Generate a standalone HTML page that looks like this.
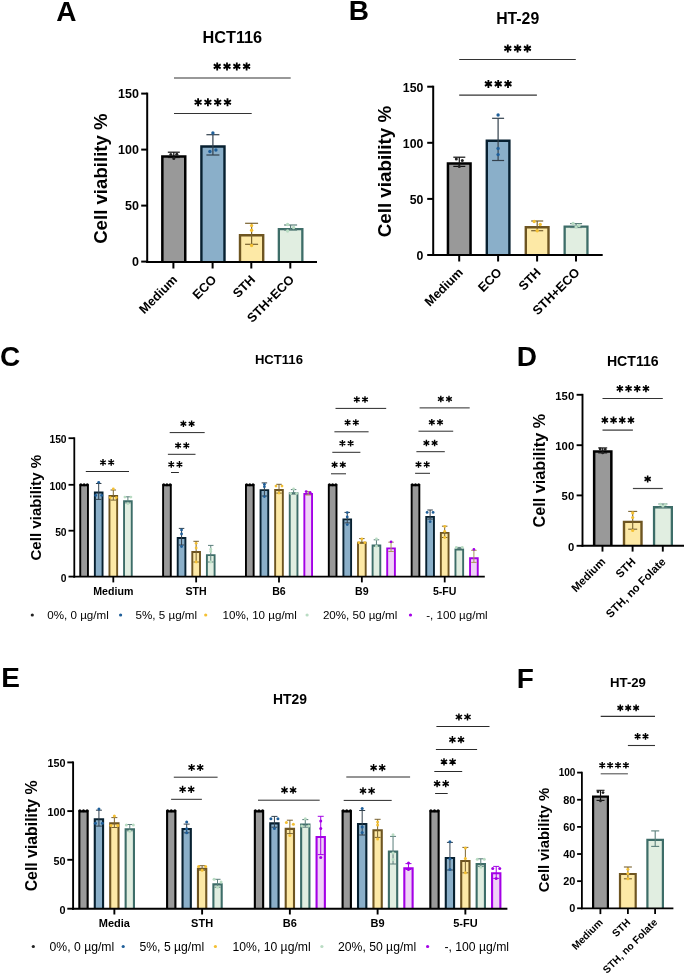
<!DOCTYPE html>
<html><head><meta charset="utf-8"><title>Figure</title>
<style>html,body{margin:0;padding:0;background:#fff;} svg{display:block;will-change:transform;} text{font-family:"Liberation Sans", sans-serif;}</style>
</head><body>
<svg width="685" height="975" viewBox="0 0 685 975">
<rect width="685" height="975" fill="#fff"/>
<text x="56.30" y="20.50" font-size="28" font-weight="bold" text-anchor="start" fill="#000" >A</text>
<text x="348.70" y="20.30" font-size="28" font-weight="bold" text-anchor="start" fill="#000" >B</text>
<text x="0.00" y="366.00" font-size="28" font-weight="bold" text-anchor="start" fill="#000" >C</text>
<text x="516.70" y="365.90" font-size="28" font-weight="bold" text-anchor="start" fill="#000" >D</text>
<text x="1.20" y="687.40" font-size="28" font-weight="bold" text-anchor="start" fill="#000" >E</text>
<text x="516.80" y="687.90" font-size="28" font-weight="bold" text-anchor="start" fill="#000" >F</text>
<text x="232.30" y="42.60" font-size="16.3" font-weight="bold" text-anchor="middle" fill="#000" >HCT116</text>
<line x1="147.20" y1="92.60" x2="147.20" y2="263.00" stroke="#000" stroke-width="2.0"/>
<line x1="141.20" y1="93.60" x2="147.20" y2="93.60" stroke="#000" stroke-width="2.0"/>
<text x="138.90" y="98.10" font-size="12.5" font-weight="bold" text-anchor="end" fill="#000" >150</text>
<line x1="141.20" y1="149.60" x2="147.20" y2="149.60" stroke="#000" stroke-width="2.0"/>
<text x="138.90" y="154.10" font-size="12.5" font-weight="bold" text-anchor="end" fill="#000" >100</text>
<line x1="141.20" y1="205.60" x2="147.20" y2="205.60" stroke="#000" stroke-width="2.0"/>
<text x="138.90" y="210.10" font-size="12.5" font-weight="bold" text-anchor="end" fill="#000" >50</text>
<line x1="141.20" y1="261.60" x2="147.20" y2="261.60" stroke="#000" stroke-width="2.0"/>
<text x="138.90" y="266.10" font-size="12.5" font-weight="bold" text-anchor="end" fill="#000" >0</text>
<text x="0" y="0" font-size="18.65" font-weight="bold" text-anchor="middle" transform="translate(106.50 178.60) rotate(-90)">Cell viability %</text>
<rect x="162.35" y="156.45" width="22.90" height="105.55" fill="#999999"/>
<path d="M162.35 262.00V156.45H185.25V262.00" fill="none" stroke="#000000" stroke-width="2.5" stroke-linejoin="miter"/>
<rect x="201.40" y="146.50" width="23.10" height="115.50" fill="#8aafc9"/>
<path d="M201.40 262.00V146.50H224.50V262.00" fill="none" stroke="#072030" stroke-width="2.4" stroke-linejoin="miter"/>
<rect x="240.00" y="235.20" width="23.20" height="26.80" fill="#fde9a6"/>
<path d="M240.00 262.00V235.20H263.20V262.00" fill="none" stroke="#6e5521" stroke-width="2.4" stroke-linejoin="miter"/>
<rect x="278.85" y="229.15" width="23.50" height="32.85" fill="#e1eee1"/>
<path d="M278.85 262.00V229.15H302.35V262.00" fill="none" stroke="#3d6d68" stroke-width="2.3" stroke-linejoin="miter"/>
<line x1="173.80" y1="152.20" x2="173.80" y2="157.50" stroke="#111111" stroke-width="1.2"/>
<line x1="167.80" y1="152.20" x2="179.80" y2="152.20" stroke="#111111" stroke-width="1.2"/>
<line x1="167.80" y1="157.50" x2="179.80" y2="157.50" stroke="#111111" stroke-width="1.2"/>
<circle cx="170.80" cy="154.50" r="1.5" fill="#222222"/>
<circle cx="173.80" cy="158.50" r="1.5" fill="#222222"/>
<circle cx="176.80" cy="154.20" r="1.5" fill="#222222"/>
<line x1="212.90" y1="134.70" x2="212.90" y2="155.00" stroke="#33414d" stroke-width="1.2"/>
<line x1="206.40" y1="134.70" x2="219.40" y2="134.70" stroke="#33414d" stroke-width="1.2"/>
<line x1="206.40" y1="155.00" x2="219.40" y2="155.00" stroke="#33414d" stroke-width="1.2"/>
<circle cx="212.90" cy="133.00" r="1.7" fill="#1f5f99"/>
<circle cx="209.90" cy="151.50" r="1.7" fill="#1f5f99"/>
<circle cx="215.90" cy="150.00" r="1.7" fill="#1f5f99"/>
<line x1="251.60" y1="223.30" x2="251.60" y2="244.30" stroke="#7a6330" stroke-width="1.2"/>
<line x1="245.10" y1="223.30" x2="258.10" y2="223.30" stroke="#7a6330" stroke-width="1.2"/>
<line x1="245.10" y1="244.30" x2="258.10" y2="244.30" stroke="#7a6330" stroke-width="1.2"/>
<circle cx="251.60" cy="225.60" r="1.7" fill="#f4c033"/>
<circle cx="251.60" cy="230.30" r="1.7" fill="#f4c033"/>
<circle cx="251.60" cy="245.50" r="1.7" fill="#f4c033"/>
<line x1="290.60" y1="225.00" x2="290.60" y2="230.00" stroke="#5b7f7b" stroke-width="1.2"/>
<line x1="284.10" y1="225.00" x2="297.10" y2="225.00" stroke="#5b7f7b" stroke-width="1.2"/>
<line x1="284.10" y1="230.00" x2="297.10" y2="230.00" stroke="#5b7f7b" stroke-width="1.2"/>
<circle cx="287.60" cy="224.50" r="1.7" fill="#b9dcc3"/>
<circle cx="287.60" cy="231.00" r="1.7" fill="#b9dcc3"/>
<circle cx="293.60" cy="227.50" r="1.7" fill="#b9dcc3"/>
<line x1="146.20" y1="262.00" x2="317.00" y2="262.00" stroke="#000" stroke-width="2.0"/>
<line x1="173.40" y1="262.00" x2="173.40" y2="268.50" stroke="#000" stroke-width="2.0"/>
<line x1="212.60" y1="262.00" x2="212.60" y2="268.50" stroke="#000" stroke-width="2.0"/>
<line x1="251.30" y1="262.00" x2="251.30" y2="268.50" stroke="#000" stroke-width="2.0"/>
<line x1="290.30" y1="262.00" x2="290.30" y2="268.50" stroke="#000" stroke-width="2.0"/>
<text x="0" y="0" font-size="12.7" font-weight="bold" text-anchor="end" transform="translate(178.10 280.50) rotate(-45)">Medium</text>
<text x="0" y="0" font-size="12.7" font-weight="bold" text-anchor="end" transform="translate(217.30 280.50) rotate(-45)">ECO</text>
<text x="0" y="0" font-size="12.7" font-weight="bold" text-anchor="end" transform="translate(256.00 280.50) rotate(-45)">STH</text>
<text x="0" y="0" font-size="12.7" font-weight="bold" text-anchor="end" transform="translate(295.00 280.50) rotate(-45)">STH+ECO</text>
<line x1="174.00" y1="78.00" x2="290.70" y2="78.00" stroke="#333" stroke-width="1.2"/>
<path d="M217.20 62.40V70.40M213.74 64.40L220.66 68.40M213.74 68.40L220.66 64.40" stroke="#000" stroke-width="1.8" fill="none"/>
<path d="M227.00 62.40V70.40M223.54 64.40L230.46 68.40M223.54 68.40L230.46 64.40" stroke="#000" stroke-width="1.8" fill="none"/>
<path d="M236.80 62.40V70.40M233.34 64.40L240.26 68.40M233.34 68.40L240.26 64.40" stroke="#000" stroke-width="1.8" fill="none"/>
<path d="M246.60 62.40V70.40M243.14 64.40L250.06 68.40M243.14 68.40L250.06 64.40" stroke="#000" stroke-width="1.8" fill="none"/>
<line x1="174.00" y1="113.50" x2="251.70" y2="113.50" stroke="#333" stroke-width="1.1"/>
<path d="M198.10 98.30V106.30M194.64 100.30L201.56 104.30M194.64 104.30L201.56 100.30" stroke="#000" stroke-width="1.8" fill="none"/>
<path d="M207.90 98.30V106.30M204.44 100.30L211.36 104.30M204.44 104.30L211.36 100.30" stroke="#000" stroke-width="1.8" fill="none"/>
<path d="M217.70 98.30V106.30M214.24 100.30L221.16 104.30M214.24 104.30L221.16 100.30" stroke="#000" stroke-width="1.8" fill="none"/>
<path d="M227.50 98.30V106.30M224.04 100.30L230.96 104.30M224.04 104.30L230.96 100.30" stroke="#000" stroke-width="1.8" fill="none"/>
<text x="517.70" y="23.60" font-size="15.8" font-weight="bold" text-anchor="middle" fill="#000" >HT-29</text>
<line x1="433.20" y1="85.70" x2="433.20" y2="256.00" stroke="#000" stroke-width="2.0"/>
<line x1="427.20" y1="86.70" x2="433.20" y2="86.70" stroke="#000" stroke-width="2.0"/>
<text x="423.40" y="92.13" font-size="12.3" font-weight="bold" text-anchor="end" fill="#000" >150</text>
<line x1="427.20" y1="142.80" x2="433.20" y2="142.80" stroke="#000" stroke-width="2.0"/>
<text x="423.40" y="148.23" font-size="12.3" font-weight="bold" text-anchor="end" fill="#000" >100</text>
<line x1="427.20" y1="198.90" x2="433.20" y2="198.90" stroke="#000" stroke-width="2.0"/>
<text x="423.40" y="204.33" font-size="12.3" font-weight="bold" text-anchor="end" fill="#000" >50</text>
<line x1="427.20" y1="255.00" x2="433.20" y2="255.00" stroke="#000" stroke-width="2.0"/>
<text x="423.40" y="260.43" font-size="12.3" font-weight="bold" text-anchor="end" fill="#000" >0</text>
<text x="0" y="0" font-size="18.8" font-weight="bold" text-anchor="middle" transform="translate(391.20 171.60) rotate(-90)">Cell viability %</text>
<rect x="447.95" y="163.55" width="22.60" height="91.45" fill="#999999"/>
<path d="M447.95 255.00V163.55H470.55V255.00" fill="none" stroke="#000000" stroke-width="2.5" stroke-linejoin="miter"/>
<rect x="486.80" y="140.70" width="22.60" height="114.30" fill="#8aafc9"/>
<path d="M486.80 255.00V140.70H509.40V255.00" fill="none" stroke="#072030" stroke-width="2.4" stroke-linejoin="miter"/>
<rect x="525.80" y="227.30" width="22.70" height="27.70" fill="#fde9a6"/>
<path d="M525.80 255.00V227.30H548.50V255.00" fill="none" stroke="#6e5521" stroke-width="2.4" stroke-linejoin="miter"/>
<rect x="564.65" y="226.65" width="22.80" height="28.35" fill="#e1eee1"/>
<path d="M564.65 255.00V226.65H587.45V255.00" fill="none" stroke="#3d6d68" stroke-width="2.3" stroke-linejoin="miter"/>
<line x1="459.30" y1="157.20" x2="459.30" y2="166.40" stroke="#111111" stroke-width="1.2"/>
<line x1="453.30" y1="157.20" x2="465.30" y2="157.20" stroke="#111111" stroke-width="1.2"/>
<line x1="453.30" y1="166.40" x2="465.30" y2="166.40" stroke="#111111" stroke-width="1.2"/>
<circle cx="456.30" cy="159.00" r="1.5" fill="#222222"/>
<circle cx="462.30" cy="160.50" r="1.5" fill="#222222"/>
<circle cx="459.30" cy="166.40" r="1.5" fill="#222222"/>
<line x1="498.10" y1="118.30" x2="498.10" y2="160.50" stroke="#33414d" stroke-width="1.2"/>
<line x1="492.10" y1="118.30" x2="504.10" y2="118.30" stroke="#33414d" stroke-width="1.2"/>
<line x1="492.10" y1="160.50" x2="504.10" y2="160.50" stroke="#33414d" stroke-width="1.2"/>
<circle cx="498.10" cy="115.00" r="1.7" fill="#1f5f99"/>
<circle cx="498.10" cy="148.50" r="1.7" fill="#1f5f99"/>
<circle cx="498.10" cy="154.60" r="1.7" fill="#1f5f99"/>
<line x1="537.20" y1="221.00" x2="537.20" y2="230.70" stroke="#7a6330" stroke-width="1.2"/>
<line x1="531.20" y1="221.00" x2="543.20" y2="221.00" stroke="#7a6330" stroke-width="1.2"/>
<line x1="531.20" y1="230.70" x2="543.20" y2="230.70" stroke="#7a6330" stroke-width="1.2"/>
<circle cx="534.20" cy="221.50" r="1.7" fill="#f4c033"/>
<circle cx="540.20" cy="224.50" r="1.7" fill="#f4c033"/>
<circle cx="537.20" cy="230.70" r="1.7" fill="#f4c033"/>
<line x1="576.10" y1="223.60" x2="576.10" y2="227.50" stroke="#5b7f7b" stroke-width="1.2"/>
<line x1="570.10" y1="223.60" x2="582.10" y2="223.60" stroke="#5b7f7b" stroke-width="1.2"/>
<line x1="570.10" y1="227.50" x2="582.10" y2="227.50" stroke="#5b7f7b" stroke-width="1.2"/>
<circle cx="573.10" cy="223.50" r="1.7" fill="#b9dcc3"/>
<circle cx="579.10" cy="225.50" r="1.7" fill="#b9dcc3"/>
<circle cx="576.10" cy="227.00" r="1.7" fill="#b9dcc3"/>
<line x1="432.20" y1="255.00" x2="602.70" y2="255.00" stroke="#000" stroke-width="2.0"/>
<line x1="459.20" y1="255.00" x2="459.20" y2="261.50" stroke="#000" stroke-width="2.0"/>
<line x1="498.10" y1="255.00" x2="498.10" y2="261.50" stroke="#000" stroke-width="2.0"/>
<line x1="537.10" y1="255.00" x2="537.10" y2="261.50" stroke="#000" stroke-width="2.0"/>
<line x1="576.00" y1="255.00" x2="576.00" y2="261.50" stroke="#000" stroke-width="2.0"/>
<text x="0" y="0" font-size="12.7" font-weight="bold" text-anchor="end" transform="translate(463.70 273.20) rotate(-45)">Medium</text>
<text x="0" y="0" font-size="12.7" font-weight="bold" text-anchor="end" transform="translate(502.60 273.20) rotate(-45)">ECO</text>
<text x="0" y="0" font-size="12.7" font-weight="bold" text-anchor="end" transform="translate(541.60 273.20) rotate(-45)">STH</text>
<text x="0" y="0" font-size="12.7" font-weight="bold" text-anchor="end" transform="translate(580.50 273.20) rotate(-45)">STH+ECO</text>
<line x1="459.20" y1="59.50" x2="575.80" y2="59.50" stroke="#333" stroke-width="1.1"/>
<path d="M507.80 44.40V52.40M504.34 46.40L511.26 50.40M504.34 50.40L511.26 46.40" stroke="#000" stroke-width="1.8" fill="none"/>
<path d="M517.60 44.40V52.40M514.14 46.40L521.06 50.40M514.14 50.40L521.06 46.40" stroke="#000" stroke-width="1.8" fill="none"/>
<path d="M527.40 44.40V52.40M523.94 46.40L530.86 50.40M523.94 50.40L530.86 46.40" stroke="#000" stroke-width="1.8" fill="none"/>
<line x1="459.20" y1="95.20" x2="536.90" y2="95.20" stroke="#333" stroke-width="1.2"/>
<path d="M488.40 79.90V87.90M484.94 81.90L491.86 85.90M484.94 85.90L491.86 81.90" stroke="#000" stroke-width="1.8" fill="none"/>
<path d="M498.20 79.90V87.90M494.74 81.90L501.66 85.90M494.74 85.90L501.66 81.90" stroke="#000" stroke-width="1.8" fill="none"/>
<path d="M508.00 79.90V87.90M504.54 81.90L511.46 85.90M504.54 85.90L511.46 81.90" stroke="#000" stroke-width="1.8" fill="none"/>
<!--C-->
<text x="278.90" y="364.00" font-size="13.1" font-weight="bold" text-anchor="middle" fill="#000" >HCT116</text>
<text x="0" y="0" font-size="15.1" font-weight="bold" text-anchor="middle" transform="translate(41.00 507.70) rotate(-90)">Cell viability %</text>
<line x1="74.30" y1="437.30" x2="74.30" y2="577.60" stroke="#000" stroke-width="1.8"/>
<line x1="68.50" y1="438.20" x2="74.30" y2="438.20" stroke="#000" stroke-width="1.8"/>
<text x="66.60" y="443.31" font-size="10.3" font-weight="bold" text-anchor="end" fill="#000" >150</text>
<line x1="68.50" y1="484.80" x2="74.30" y2="484.80" stroke="#000" stroke-width="1.8"/>
<text x="66.60" y="489.91" font-size="10.3" font-weight="bold" text-anchor="end" fill="#000" >100</text>
<line x1="68.50" y1="530.70" x2="74.30" y2="530.70" stroke="#000" stroke-width="1.8"/>
<text x="66.60" y="535.81" font-size="10.3" font-weight="bold" text-anchor="end" fill="#000" >50</text>
<line x1="68.50" y1="576.60" x2="74.30" y2="576.60" stroke="#000" stroke-width="1.8"/>
<text x="66.60" y="581.71" font-size="10.3" font-weight="bold" text-anchor="end" fill="#000" >0</text>
<rect x="80.25" y="485.25" width="7.70" height="91.35" fill="#999999"/>
<path d="M80.25 576.60V485.25H87.95V576.60" fill="none" stroke="#000000" stroke-width="1.9" stroke-linejoin="miter"/>
<circle cx="80.90" cy="484.80" r="1.5" fill="#000"/>
<circle cx="84.10" cy="484.80" r="1.5" fill="#000"/>
<circle cx="87.30" cy="484.80" r="1.5" fill="#000"/>
<rect x="94.85" y="492.45" width="7.70" height="84.15" fill="#8aafc9"/>
<path d="M94.85 576.60V492.45H102.55V576.60" fill="none" stroke="#072030" stroke-width="1.9" stroke-linejoin="miter"/>
<line x1="98.70" y1="483.50" x2="98.70" y2="499.40" stroke="#33414d" stroke-width="1.0"/>
<line x1="95.95" y1="483.50" x2="101.45" y2="483.50" stroke="#33414d" stroke-width="1.0"/>
<line x1="95.95" y1="499.40" x2="101.45" y2="499.40" stroke="#33414d" stroke-width="1.0"/>
<circle cx="98.70" cy="482.30" r="1.4" fill="#1f5f99"/>
<circle cx="95.70" cy="495.40" r="1.4" fill="#1f5f99"/>
<circle cx="101.70" cy="495.40" r="1.4" fill="#1f5f99"/>
<rect x="109.45" y="495.95" width="7.70" height="80.65" fill="#fde9a6"/>
<path d="M109.45 576.60V495.95H117.15V576.60" fill="none" stroke="#6e5521" stroke-width="1.9" stroke-linejoin="miter"/>
<line x1="113.30" y1="490.00" x2="113.30" y2="500.10" stroke="#7a6330" stroke-width="1.0"/>
<line x1="110.55" y1="490.00" x2="116.05" y2="490.00" stroke="#7a6330" stroke-width="1.0"/>
<line x1="110.55" y1="500.10" x2="116.05" y2="500.10" stroke="#7a6330" stroke-width="1.0"/>
<circle cx="113.30" cy="488.90" r="1.4" fill="#f4c033"/>
<circle cx="110.30" cy="497.60" r="1.4" fill="#f4c033"/>
<circle cx="116.30" cy="497.60" r="1.4" fill="#f4c033"/>
<rect x="124.05" y="501.25" width="7.70" height="75.35" fill="#e1eee1"/>
<path d="M124.05 576.60V501.25H131.75V576.60" fill="none" stroke="#3d6d68" stroke-width="1.9" stroke-linejoin="miter"/>
<line x1="127.90" y1="496.80" x2="127.90" y2="502.90" stroke="#5b7f7b" stroke-width="1.0"/>
<line x1="125.15" y1="496.80" x2="130.65" y2="496.80" stroke="#5b7f7b" stroke-width="1.0"/>
<line x1="125.15" y1="502.90" x2="130.65" y2="502.90" stroke="#5b7f7b" stroke-width="1.0"/>
<circle cx="124.90" cy="497.10" r="1.4" fill="#b9dcc3"/>
<circle cx="130.90" cy="497.10" r="1.4" fill="#b9dcc3"/>
<circle cx="127.90" cy="503.70" r="1.4" fill="#b9dcc3"/>
<text x="113.30" y="594.90" font-size="10.6" font-weight="bold" text-anchor="middle" fill="#000" >Medium</text>
<rect x="163.10" y="485.25" width="7.70" height="91.35" fill="#999999"/>
<path d="M163.10 576.60V485.25H170.80V576.60" fill="none" stroke="#000000" stroke-width="1.9" stroke-linejoin="miter"/>
<circle cx="163.75" cy="484.80" r="1.5" fill="#000"/>
<circle cx="166.95" cy="484.80" r="1.5" fill="#000"/>
<circle cx="170.15" cy="484.80" r="1.5" fill="#000"/>
<rect x="177.70" y="538.05" width="7.70" height="38.55" fill="#8aafc9"/>
<path d="M177.70 576.60V538.05H185.40V576.60" fill="none" stroke="#072030" stroke-width="1.9" stroke-linejoin="miter"/>
<line x1="181.55" y1="528.40" x2="181.55" y2="545.00" stroke="#33414d" stroke-width="1.0"/>
<line x1="178.80" y1="528.40" x2="184.30" y2="528.40" stroke="#33414d" stroke-width="1.0"/>
<line x1="178.80" y1="545.00" x2="184.30" y2="545.00" stroke="#33414d" stroke-width="1.0"/>
<circle cx="181.55" cy="529.90" r="1.4" fill="#1f5f99"/>
<circle cx="181.55" cy="534.00" r="1.4" fill="#1f5f99"/>
<circle cx="181.55" cy="546.50" r="1.4" fill="#1f5f99"/>
<rect x="192.30" y="552.05" width="7.70" height="24.55" fill="#fde9a6"/>
<path d="M192.30 576.60V552.05H200.00V576.60" fill="none" stroke="#6e5521" stroke-width="1.9" stroke-linejoin="miter"/>
<line x1="196.15" y1="541.30" x2="196.15" y2="562.00" stroke="#7a6330" stroke-width="1.0"/>
<line x1="193.40" y1="541.30" x2="198.90" y2="541.30" stroke="#7a6330" stroke-width="1.0"/>
<line x1="193.40" y1="562.00" x2="198.90" y2="562.00" stroke="#7a6330" stroke-width="1.0"/>
<circle cx="196.15" cy="543.30" r="1.4" fill="#f4c033"/>
<circle cx="196.15" cy="548.00" r="1.4" fill="#f4c033"/>
<circle cx="196.15" cy="562.00" r="1.4" fill="#f4c033"/>
<rect x="206.90" y="555.15" width="7.70" height="21.45" fill="#e1eee1"/>
<path d="M206.90 576.60V555.15H214.60V576.60" fill="none" stroke="#3d6d68" stroke-width="1.9" stroke-linejoin="miter"/>
<line x1="210.75" y1="545.40" x2="210.75" y2="562.00" stroke="#5b7f7b" stroke-width="1.0"/>
<line x1="208.00" y1="545.40" x2="213.50" y2="545.40" stroke="#5b7f7b" stroke-width="1.0"/>
<line x1="208.00" y1="562.00" x2="213.50" y2="562.00" stroke="#5b7f7b" stroke-width="1.0"/>
<circle cx="210.75" cy="549.20" r="1.4" fill="#b9dcc3"/>
<circle cx="210.75" cy="551.50" r="1.4" fill="#b9dcc3"/>
<circle cx="210.75" cy="562.00" r="1.4" fill="#b9dcc3"/>
<text x="196.15" y="594.90" font-size="10.6" font-weight="bold" text-anchor="middle" fill="#000" >STH</text>
<rect x="245.95" y="485.25" width="7.70" height="91.35" fill="#999999"/>
<path d="M245.95 576.60V485.25H253.65V576.60" fill="none" stroke="#000000" stroke-width="1.9" stroke-linejoin="miter"/>
<circle cx="246.60" cy="484.80" r="1.5" fill="#000"/>
<circle cx="249.80" cy="484.80" r="1.5" fill="#000"/>
<circle cx="253.00" cy="484.80" r="1.5" fill="#000"/>
<rect x="260.55" y="490.15" width="7.70" height="86.45" fill="#8aafc9"/>
<path d="M260.55 576.60V490.15H268.25V576.60" fill="none" stroke="#072030" stroke-width="1.9" stroke-linejoin="miter"/>
<line x1="264.40" y1="482.90" x2="264.40" y2="496.00" stroke="#33414d" stroke-width="1.0"/>
<line x1="261.65" y1="482.90" x2="267.15" y2="482.90" stroke="#33414d" stroke-width="1.0"/>
<line x1="261.65" y1="496.00" x2="267.15" y2="496.00" stroke="#33414d" stroke-width="1.0"/>
<circle cx="264.40" cy="484.30" r="1.4" fill="#1f5f99"/>
<circle cx="264.40" cy="486.70" r="1.4" fill="#1f5f99"/>
<circle cx="264.40" cy="496.60" r="1.4" fill="#1f5f99"/>
<rect x="275.15" y="489.95" width="7.70" height="86.65" fill="#fde9a6"/>
<path d="M275.15 576.60V489.95H282.85V576.60" fill="none" stroke="#6e5521" stroke-width="1.9" stroke-linejoin="miter"/>
<line x1="279.00" y1="484.30" x2="279.00" y2="493.10" stroke="#7a6330" stroke-width="1.0"/>
<line x1="276.25" y1="484.30" x2="281.75" y2="484.30" stroke="#7a6330" stroke-width="1.0"/>
<line x1="276.25" y1="493.10" x2="281.75" y2="493.10" stroke="#7a6330" stroke-width="1.0"/>
<circle cx="276.00" cy="486.10" r="1.4" fill="#f4c033"/>
<circle cx="282.00" cy="486.10" r="1.4" fill="#f4c033"/>
<circle cx="279.00" cy="493.10" r="1.4" fill="#f4c033"/>
<rect x="289.75" y="493.25" width="7.70" height="83.35" fill="#e1eee1"/>
<path d="M289.75 576.60V493.25H297.45V576.60" fill="none" stroke="#3d6d68" stroke-width="1.9" stroke-linejoin="miter"/>
<line x1="293.60" y1="489.60" x2="293.60" y2="494.00" stroke="#5b7f7b" stroke-width="1.0"/>
<line x1="290.85" y1="489.60" x2="296.35" y2="489.60" stroke="#5b7f7b" stroke-width="1.0"/>
<line x1="290.85" y1="494.00" x2="296.35" y2="494.00" stroke="#5b7f7b" stroke-width="1.0"/>
<circle cx="293.60" cy="489.00" r="1.4" fill="#b9dcc3"/>
<circle cx="290.60" cy="493.50" r="1.4" fill="#b9dcc3"/>
<circle cx="296.60" cy="493.50" r="1.4" fill="#b9dcc3"/>
<rect x="304.35" y="494.05" width="7.70" height="82.55" fill="#efd2f7"/>
<path d="M304.35 576.60V494.05H312.05V576.60" fill="none" stroke="#a400e6" stroke-width="1.9" stroke-linejoin="miter"/>
<line x1="308.20" y1="491.60" x2="308.20" y2="495.00" stroke="#a89a5a" stroke-width="1.0"/>
<line x1="305.45" y1="491.60" x2="310.95" y2="491.60" stroke="#a89a5a" stroke-width="1.0"/>
<line x1="305.45" y1="495.00" x2="310.95" y2="495.00" stroke="#a89a5a" stroke-width="1.0"/>
<circle cx="306.20" cy="491.60" r="1.4" fill="#a400e6"/>
<circle cx="310.20" cy="492.60" r="1.4" fill="#a400e6"/>
<text x="279.00" y="594.90" font-size="10.6" font-weight="bold" text-anchor="middle" fill="#000" >B6</text>
<rect x="328.80" y="485.25" width="7.70" height="91.35" fill="#999999"/>
<path d="M328.80 576.60V485.25H336.50V576.60" fill="none" stroke="#000000" stroke-width="1.9" stroke-linejoin="miter"/>
<circle cx="329.45" cy="484.80" r="1.5" fill="#000"/>
<circle cx="332.65" cy="484.80" r="1.5" fill="#000"/>
<circle cx="335.85" cy="484.80" r="1.5" fill="#000"/>
<rect x="343.40" y="519.35" width="7.70" height="57.25" fill="#8aafc9"/>
<path d="M343.40 576.60V519.35H351.10V576.60" fill="none" stroke="#072030" stroke-width="1.9" stroke-linejoin="miter"/>
<line x1="347.25" y1="512.40" x2="347.25" y2="522.90" stroke="#33414d" stroke-width="1.0"/>
<line x1="344.50" y1="512.40" x2="350.00" y2="512.40" stroke="#33414d" stroke-width="1.0"/>
<line x1="344.50" y1="522.90" x2="350.00" y2="522.90" stroke="#33414d" stroke-width="1.0"/>
<circle cx="347.25" cy="512.60" r="1.4" fill="#1f5f99"/>
<circle cx="347.25" cy="517.00" r="1.4" fill="#1f5f99"/>
<circle cx="347.25" cy="524.60" r="1.4" fill="#1f5f99"/>
<rect x="358.00" y="542.75" width="7.70" height="33.85" fill="#fde9a6"/>
<path d="M358.00 576.60V542.75H365.70V576.60" fill="none" stroke="#6e5521" stroke-width="1.9" stroke-linejoin="miter"/>
<line x1="361.85" y1="538.60" x2="361.85" y2="542.70" stroke="#7a6330" stroke-width="1.0"/>
<line x1="359.10" y1="538.60" x2="364.60" y2="538.60" stroke="#7a6330" stroke-width="1.0"/>
<line x1="359.10" y1="542.70" x2="364.60" y2="542.70" stroke="#7a6330" stroke-width="1.0"/>
<circle cx="361.85" cy="539.00" r="1.4" fill="#f4c033"/>
<circle cx="358.85" cy="542.70" r="1.4" fill="#f4c033"/>
<circle cx="364.85" cy="542.70" r="1.4" fill="#f4c033"/>
<rect x="372.60" y="545.45" width="7.70" height="31.15" fill="#e1eee1"/>
<path d="M372.60 576.60V545.45H380.30V576.60" fill="none" stroke="#3d6d68" stroke-width="1.9" stroke-linejoin="miter"/>
<line x1="376.45" y1="539.80" x2="376.45" y2="546.20" stroke="#5b7f7b" stroke-width="1.0"/>
<line x1="373.70" y1="539.80" x2="379.20" y2="539.80" stroke="#5b7f7b" stroke-width="1.0"/>
<line x1="373.70" y1="546.20" x2="379.20" y2="546.20" stroke="#5b7f7b" stroke-width="1.0"/>
<circle cx="376.45" cy="539.00" r="1.4" fill="#b9dcc3"/>
<circle cx="376.45" cy="546.20" r="1.4" fill="#b9dcc3"/>
<rect x="387.20" y="548.35" width="7.70" height="28.25" fill="#efd2f7"/>
<path d="M387.20 576.60V548.35H394.90V576.60" fill="none" stroke="#a400e6" stroke-width="1.9" stroke-linejoin="miter"/>
<line x1="391.05" y1="542.20" x2="391.05" y2="551.50" stroke="#a89a5a" stroke-width="1.0"/>
<line x1="388.30" y1="542.20" x2="393.80" y2="542.20" stroke="#a89a5a" stroke-width="1.0"/>
<line x1="388.30" y1="551.50" x2="393.80" y2="551.50" stroke="#a89a5a" stroke-width="1.0"/>
<circle cx="391.05" cy="541.80" r="1.4" fill="#a400e6"/>
<text x="361.85" y="594.90" font-size="10.6" font-weight="bold" text-anchor="middle" fill="#000" >B9</text>
<rect x="411.65" y="485.25" width="7.70" height="91.35" fill="#999999"/>
<path d="M411.65 576.60V485.25H419.35V576.60" fill="none" stroke="#000000" stroke-width="1.9" stroke-linejoin="miter"/>
<circle cx="412.30" cy="484.80" r="1.5" fill="#000"/>
<circle cx="415.50" cy="484.80" r="1.5" fill="#000"/>
<circle cx="418.70" cy="484.80" r="1.5" fill="#000"/>
<rect x="426.25" y="516.85" width="7.70" height="59.75" fill="#8aafc9"/>
<path d="M426.25 576.60V516.85H433.95V576.60" fill="none" stroke="#072030" stroke-width="1.9" stroke-linejoin="miter"/>
<line x1="430.10" y1="510.00" x2="430.10" y2="519.10" stroke="#33414d" stroke-width="1.0"/>
<line x1="427.35" y1="510.00" x2="432.85" y2="510.00" stroke="#33414d" stroke-width="1.0"/>
<line x1="427.35" y1="519.10" x2="432.85" y2="519.10" stroke="#33414d" stroke-width="1.0"/>
<circle cx="427.10" cy="512.40" r="1.4" fill="#1f5f99"/>
<circle cx="433.10" cy="512.40" r="1.4" fill="#1f5f99"/>
<circle cx="430.10" cy="521.70" r="1.4" fill="#1f5f99"/>
<rect x="440.85" y="532.85" width="7.70" height="43.75" fill="#fde9a6"/>
<path d="M440.85 576.60V532.85H448.55V576.60" fill="none" stroke="#6e5521" stroke-width="1.9" stroke-linejoin="miter"/>
<line x1="444.70" y1="526.20" x2="444.70" y2="537.50" stroke="#7a6330" stroke-width="1.0"/>
<line x1="441.95" y1="526.20" x2="447.45" y2="526.20" stroke="#7a6330" stroke-width="1.0"/>
<line x1="441.95" y1="537.50" x2="447.45" y2="537.50" stroke="#7a6330" stroke-width="1.0"/>
<circle cx="444.70" cy="526.40" r="1.4" fill="#f4c033"/>
<circle cx="444.70" cy="531.30" r="1.4" fill="#f4c033"/>
<circle cx="444.70" cy="537.50" r="1.4" fill="#f4c033"/>
<rect x="455.45" y="549.55" width="7.70" height="27.05" fill="#e1eee1"/>
<path d="M455.45 576.60V549.55H463.15V576.60" fill="none" stroke="#3d6d68" stroke-width="1.9" stroke-linejoin="miter"/>
<line x1="459.30" y1="547.40" x2="459.30" y2="548.60" stroke="#5b7f7b" stroke-width="1.0"/>
<line x1="456.55" y1="547.40" x2="462.05" y2="547.40" stroke="#5b7f7b" stroke-width="1.0"/>
<line x1="456.55" y1="548.60" x2="462.05" y2="548.60" stroke="#5b7f7b" stroke-width="1.0"/>
<circle cx="456.30" cy="547.40" r="1.4" fill="#b9dcc3"/>
<circle cx="462.30" cy="547.40" r="1.4" fill="#b9dcc3"/>
<rect x="470.05" y="558.25" width="7.70" height="18.35" fill="#efd2f7"/>
<path d="M470.05 576.60V558.25H477.75V576.60" fill="none" stroke="#a400e6" stroke-width="1.9" stroke-linejoin="miter"/>
<line x1="473.90" y1="550.30" x2="473.90" y2="562.40" stroke="#a89a5a" stroke-width="1.0"/>
<line x1="471.15" y1="550.30" x2="476.65" y2="550.30" stroke="#a89a5a" stroke-width="1.0"/>
<line x1="471.15" y1="562.40" x2="476.65" y2="562.40" stroke="#a89a5a" stroke-width="1.0"/>
<circle cx="473.90" cy="549.40" r="1.4" fill="#a400e6"/>
<text x="444.70" y="594.90" font-size="10.6" font-weight="bold" text-anchor="middle" fill="#000" >5-FU</text>
<line x1="73.40" y1="576.60" x2="484.80" y2="576.60" stroke="#000" stroke-width="1.8"/>
<line x1="113.30" y1="576.60" x2="113.30" y2="582.40" stroke="#000" stroke-width="1.8"/>
<line x1="196.15" y1="576.60" x2="196.15" y2="582.40" stroke="#000" stroke-width="1.8"/>
<line x1="279.00" y1="576.60" x2="279.00" y2="582.40" stroke="#000" stroke-width="1.8"/>
<line x1="361.85" y1="576.60" x2="361.85" y2="582.40" stroke="#000" stroke-width="1.8"/>
<line x1="444.70" y1="576.60" x2="444.70" y2="582.40" stroke="#000" stroke-width="1.8"/>
<line x1="85.80" y1="471.50" x2="129.00" y2="471.50" stroke="#2a2a2a" stroke-width="1.0"/>
<path d="M103.00 459.10V465.70M100.14 460.75L105.86 464.05M100.14 464.05L105.86 460.75" stroke="#000" stroke-width="1.4" fill="none"/>
<path d="M111.20 459.10V465.70M108.34 460.75L114.06 464.05M108.34 464.05L114.06 460.75" stroke="#000" stroke-width="1.4" fill="none"/>
<line x1="171.00" y1="472.50" x2="178.90" y2="472.50" stroke="#2a2a2a" stroke-width="1.0"/>
<path d="M171.25 461.10V467.70M168.39 462.75L174.11 466.05M168.39 466.05L174.11 462.75" stroke="#000" stroke-width="1.4" fill="none"/>
<path d="M179.45 461.10V467.70M176.59 462.75L182.31 466.05M176.59 466.05L182.31 462.75" stroke="#000" stroke-width="1.4" fill="none"/>
<line x1="167.90" y1="454.30" x2="195.50" y2="454.30" stroke="#2a2a2a" stroke-width="1.0"/>
<path d="M178.10 442.20V448.80M175.24 443.85L180.96 447.15M175.24 447.15L180.96 443.85" stroke="#000" stroke-width="1.4" fill="none"/>
<path d="M186.30 442.20V448.80M183.44 443.85L189.16 447.15M183.44 447.15L189.16 443.85" stroke="#000" stroke-width="1.4" fill="none"/>
<line x1="169.70" y1="432.60" x2="204.70" y2="432.60" stroke="#2a2a2a" stroke-width="1.0"/>
<path d="M183.40 420.50V427.10M180.54 422.15L186.26 425.45M180.54 425.45L186.26 422.15" stroke="#000" stroke-width="1.4" fill="none"/>
<path d="M191.60 420.50V427.10M188.74 422.15L194.46 425.45M188.74 425.45L194.46 422.15" stroke="#000" stroke-width="1.4" fill="none"/>
<line x1="331.00" y1="473.80" x2="346.00" y2="473.80" stroke="#2a2a2a" stroke-width="1.0"/>
<path d="M334.60 461.50V468.10M331.74 463.15L337.46 466.45M331.74 466.45L337.46 463.15" stroke="#000" stroke-width="1.4" fill="none"/>
<path d="M342.80 461.50V468.10M339.94 463.15L345.66 466.45M339.94 466.45L345.66 463.15" stroke="#000" stroke-width="1.4" fill="none"/>
<line x1="332.30" y1="452.30" x2="360.40" y2="452.30" stroke="#2a2a2a" stroke-width="1.0"/>
<path d="M342.40 440.00V446.60M339.54 441.65L345.26 444.95M339.54 444.95L345.26 441.65" stroke="#000" stroke-width="1.4" fill="none"/>
<path d="M350.60 440.00V446.60M347.74 441.65L353.46 444.95M347.74 444.95L353.46 441.65" stroke="#000" stroke-width="1.4" fill="none"/>
<line x1="334.40" y1="431.80" x2="368.60" y2="431.80" stroke="#2a2a2a" stroke-width="1.0"/>
<path d="M347.60 419.20V425.80M344.74 420.85L350.46 424.15M344.74 424.15L350.46 420.85" stroke="#000" stroke-width="1.4" fill="none"/>
<path d="M355.80 419.20V425.80M352.94 420.85L358.66 424.15M352.94 424.15L358.66 420.85" stroke="#000" stroke-width="1.4" fill="none"/>
<line x1="335.50" y1="408.40" x2="386.20" y2="408.40" stroke="#2a2a2a" stroke-width="1.0"/>
<path d="M356.80 396.20V402.80M353.94 397.85L359.66 401.15M353.94 401.15L359.66 397.85" stroke="#000" stroke-width="1.4" fill="none"/>
<path d="M365.00 396.20V402.80M362.14 397.85L367.86 401.15M362.14 401.15L367.86 397.85" stroke="#000" stroke-width="1.4" fill="none"/>
<line x1="415.10" y1="473.30" x2="430.00" y2="473.30" stroke="#2a2a2a" stroke-width="1.0"/>
<path d="M418.50 461.20V467.80M415.64 462.85L421.36 466.15M415.64 466.15L421.36 462.85" stroke="#000" stroke-width="1.4" fill="none"/>
<path d="M426.70 461.20V467.80M423.84 462.85L429.56 466.15M423.84 466.15L429.56 462.85" stroke="#000" stroke-width="1.4" fill="none"/>
<line x1="416.40" y1="451.70" x2="444.80" y2="451.70" stroke="#2a2a2a" stroke-width="1.0"/>
<path d="M426.40 439.70V446.30M423.54 441.35L429.26 444.65M423.54 444.65L429.26 441.35" stroke="#000" stroke-width="1.4" fill="none"/>
<path d="M434.60 439.70V446.30M431.74 441.35L437.46 444.65M431.74 444.65L437.46 441.35" stroke="#000" stroke-width="1.4" fill="none"/>
<line x1="418.50" y1="431.20" x2="453.20" y2="431.20" stroke="#2a2a2a" stroke-width="1.0"/>
<path d="M431.80 418.90V425.50M428.94 420.55L434.66 423.85M428.94 423.85L434.66 420.55" stroke="#000" stroke-width="1.4" fill="none"/>
<path d="M440.00 418.90V425.50M437.14 420.55L442.86 423.85M437.14 423.85L442.86 420.55" stroke="#000" stroke-width="1.4" fill="none"/>
<line x1="419.60" y1="407.90" x2="469.70" y2="407.90" stroke="#2a2a2a" stroke-width="1.0"/>
<path d="M440.80 395.70V402.30M437.94 397.35L443.66 400.65M437.94 400.65L443.66 397.35" stroke="#000" stroke-width="1.4" fill="none"/>
<path d="M449.00 395.70V402.30M446.14 397.35L451.86 400.65M446.14 400.65L451.86 397.35" stroke="#000" stroke-width="1.4" fill="none"/>
<circle cx="32.30" cy="615.00" r="1.6" fill="#222"/>
<text x="47.30" y="619.00" font-size="11.6" font-weight="normal" text-anchor="start" fill="#000" >0%, 0 µg/ml</text>
<circle cx="120.60" cy="615.00" r="1.6" fill="#1f5f99"/>
<text x="135.60" y="619.00" font-size="11.6" font-weight="normal" text-anchor="start" fill="#000" >5%, 5 µg/ml</text>
<circle cx="205.70" cy="615.00" r="1.6" fill="#f4c033"/>
<text x="222.50" y="619.00" font-size="11.6" font-weight="normal" text-anchor="start" fill="#000" >10%, 10 µg/ml</text>
<circle cx="307.10" cy="615.00" r="1.6" fill="#b9dcc3"/>
<text x="322.90" y="619.00" font-size="11.6" font-weight="normal" text-anchor="start" fill="#000" >20%, 50 µg/ml</text>
<circle cx="410.50" cy="615.00" r="1.6" fill="#a400e6"/>
<text x="426.20" y="619.00" font-size="11.6" font-weight="normal" text-anchor="start" fill="#000" >-, 100 µg/ml</text>
<text x="289.90" y="703.60" font-size="13.9" font-weight="bold" text-anchor="middle" fill="#000" >HT29</text>
<text x="0" y="0" font-size="15.85" font-weight="bold" text-anchor="middle" transform="translate(37.30 835.90) rotate(-90)">Cell viability %</text>
<line x1="73.10" y1="761.45" x2="73.10" y2="909.70" stroke="#000" stroke-width="1.9"/>
<line x1="67.30" y1="762.40" x2="73.10" y2="762.40" stroke="#000" stroke-width="1.9"/>
<text x="65.50" y="767.39" font-size="10.8" font-weight="bold" text-anchor="end" fill="#000" >150</text>
<line x1="67.30" y1="811.10" x2="73.10" y2="811.10" stroke="#000" stroke-width="1.9"/>
<text x="65.50" y="816.09" font-size="10.8" font-weight="bold" text-anchor="end" fill="#000" >100</text>
<line x1="67.30" y1="859.80" x2="73.10" y2="859.80" stroke="#000" stroke-width="1.9"/>
<text x="65.50" y="864.79" font-size="10.8" font-weight="bold" text-anchor="end" fill="#000" >50</text>
<line x1="67.30" y1="908.70" x2="73.10" y2="908.70" stroke="#000" stroke-width="1.9"/>
<text x="65.50" y="913.69" font-size="10.8" font-weight="bold" text-anchor="end" fill="#000" >0</text>
<rect x="79.35" y="811.35" width="8.30" height="97.35" fill="#999999"/>
<path d="M79.35 908.70V811.35H87.65V908.70" fill="none" stroke="#000000" stroke-width="2.1" stroke-linejoin="miter"/>
<circle cx="79.90" cy="810.80" r="1.5" fill="#000"/>
<circle cx="83.50" cy="810.80" r="1.5" fill="#000"/>
<circle cx="87.10" cy="810.80" r="1.5" fill="#000"/>
<rect x="94.78" y="819.25" width="8.30" height="89.45" fill="#8aafc9"/>
<path d="M94.78 908.70V819.25H103.08V908.70" fill="none" stroke="#072030" stroke-width="2.1" stroke-linejoin="miter"/>
<line x1="98.93" y1="810.20" x2="98.93" y2="826.10" stroke="#33414d" stroke-width="1.0"/>
<line x1="95.93" y1="810.20" x2="101.93" y2="810.20" stroke="#33414d" stroke-width="1.0"/>
<line x1="95.93" y1="826.10" x2="101.93" y2="826.10" stroke="#33414d" stroke-width="1.0"/>
<circle cx="98.93" cy="809.00" r="1.5" fill="#1f5f99"/>
<circle cx="95.43" cy="823.20" r="1.5" fill="#1f5f99"/>
<circle cx="102.43" cy="823.20" r="1.5" fill="#1f5f99"/>
<rect x="110.21" y="823.35" width="8.30" height="85.35" fill="#fde9a6"/>
<path d="M110.21 908.70V823.35H118.51V908.70" fill="none" stroke="#6e5521" stroke-width="2.1" stroke-linejoin="miter"/>
<line x1="114.36" y1="817.60" x2="114.36" y2="827.50" stroke="#7a6330" stroke-width="1.0"/>
<line x1="111.36" y1="817.60" x2="117.36" y2="817.60" stroke="#7a6330" stroke-width="1.0"/>
<line x1="111.36" y1="827.50" x2="117.36" y2="827.50" stroke="#7a6330" stroke-width="1.0"/>
<circle cx="114.36" cy="816.10" r="1.5" fill="#f4c033"/>
<circle cx="110.86" cy="825.40" r="1.5" fill="#f4c033"/>
<circle cx="117.86" cy="825.40" r="1.5" fill="#f4c033"/>
<rect x="125.64" y="829.25" width="8.30" height="79.45" fill="#e1eee1"/>
<path d="M125.64 908.70V829.25H133.94V908.70" fill="none" stroke="#3d6d68" stroke-width="2.1" stroke-linejoin="miter"/>
<line x1="129.79" y1="824.50" x2="129.79" y2="830.80" stroke="#5b7f7b" stroke-width="1.0"/>
<line x1="126.79" y1="824.50" x2="132.79" y2="824.50" stroke="#5b7f7b" stroke-width="1.0"/>
<line x1="126.79" y1="830.80" x2="132.79" y2="830.80" stroke="#5b7f7b" stroke-width="1.0"/>
<circle cx="126.29" cy="825.10" r="1.5" fill="#b9dcc3"/>
<circle cx="133.29" cy="825.10" r="1.5" fill="#b9dcc3"/>
<circle cx="129.79" cy="831.30" r="1.5" fill="#b9dcc3"/>
<text x="114.36" y="927.40" font-size="11.0" font-weight="bold" text-anchor="middle" fill="#000" >Media</text>
<rect x="167.10" y="811.35" width="8.30" height="97.35" fill="#999999"/>
<path d="M167.10 908.70V811.35H175.40V908.70" fill="none" stroke="#000000" stroke-width="2.1" stroke-linejoin="miter"/>
<circle cx="167.65" cy="810.80" r="1.5" fill="#000"/>
<circle cx="171.25" cy="810.80" r="1.5" fill="#000"/>
<circle cx="174.85" cy="810.80" r="1.5" fill="#000"/>
<rect x="182.53" y="828.95" width="8.30" height="79.75" fill="#8aafc9"/>
<path d="M182.53 908.70V828.95H190.83V908.70" fill="none" stroke="#072030" stroke-width="2.1" stroke-linejoin="miter"/>
<line x1="186.68" y1="824.10" x2="186.68" y2="832.80" stroke="#33414d" stroke-width="1.0"/>
<line x1="183.68" y1="824.10" x2="189.68" y2="824.10" stroke="#33414d" stroke-width="1.0"/>
<line x1="183.68" y1="832.80" x2="189.68" y2="832.80" stroke="#33414d" stroke-width="1.0"/>
<circle cx="186.68" cy="822.10" r="1.5" fill="#1f5f99"/>
<circle cx="186.68" cy="828.70" r="1.5" fill="#1f5f99"/>
<circle cx="186.68" cy="832.80" r="1.5" fill="#1f5f99"/>
<rect x="197.96" y="868.75" width="8.30" height="39.95" fill="#fde9a6"/>
<path d="M197.96 908.70V868.75H206.26V908.70" fill="none" stroke="#6e5521" stroke-width="2.1" stroke-linejoin="miter"/>
<line x1="202.11" y1="865.70" x2="202.11" y2="870.30" stroke="#7a6330" stroke-width="1.0"/>
<line x1="199.11" y1="865.70" x2="205.11" y2="865.70" stroke="#7a6330" stroke-width="1.0"/>
<line x1="199.11" y1="870.30" x2="205.11" y2="870.30" stroke="#7a6330" stroke-width="1.0"/>
<circle cx="198.61" cy="866.50" r="1.5" fill="#f4c033"/>
<circle cx="205.61" cy="866.50" r="1.5" fill="#f4c033"/>
<circle cx="202.11" cy="870.30" r="1.5" fill="#f4c033"/>
<rect x="213.39" y="884.35" width="8.30" height="24.35" fill="#e1eee1"/>
<path d="M213.39 908.70V884.35H221.69V908.70" fill="none" stroke="#3d6d68" stroke-width="2.1" stroke-linejoin="miter"/>
<line x1="217.54" y1="879.30" x2="217.54" y2="887.20" stroke="#5b7f7b" stroke-width="1.0"/>
<line x1="214.54" y1="879.30" x2="220.54" y2="879.30" stroke="#5b7f7b" stroke-width="1.0"/>
<line x1="214.54" y1="887.20" x2="220.54" y2="887.20" stroke="#5b7f7b" stroke-width="1.0"/>
<circle cx="214.04" cy="879.30" r="1.5" fill="#b9dcc3"/>
<circle cx="221.04" cy="882.10" r="1.5" fill="#b9dcc3"/>
<circle cx="217.54" cy="887.20" r="1.5" fill="#b9dcc3"/>
<text x="202.11" y="927.40" font-size="11.0" font-weight="bold" text-anchor="middle" fill="#000" >STH</text>
<rect x="254.85" y="811.35" width="8.30" height="97.35" fill="#999999"/>
<path d="M254.85 908.70V811.35H263.15V908.70" fill="none" stroke="#000000" stroke-width="2.1" stroke-linejoin="miter"/>
<circle cx="255.40" cy="810.80" r="1.5" fill="#000"/>
<circle cx="259.00" cy="810.80" r="1.5" fill="#000"/>
<circle cx="262.60" cy="810.80" r="1.5" fill="#000"/>
<rect x="270.28" y="823.35" width="8.30" height="85.35" fill="#8aafc9"/>
<path d="M270.28 908.70V823.35H278.58V908.70" fill="none" stroke="#072030" stroke-width="2.1" stroke-linejoin="miter"/>
<line x1="274.43" y1="816.40" x2="274.43" y2="827.20" stroke="#33414d" stroke-width="1.0"/>
<line x1="271.43" y1="816.40" x2="277.43" y2="816.40" stroke="#33414d" stroke-width="1.0"/>
<line x1="271.43" y1="827.20" x2="277.43" y2="827.20" stroke="#33414d" stroke-width="1.0"/>
<circle cx="270.93" cy="818.80" r="1.5" fill="#1f5f99"/>
<circle cx="277.93" cy="818.80" r="1.5" fill="#1f5f99"/>
<circle cx="274.43" cy="828.40" r="1.5" fill="#1f5f99"/>
<rect x="285.71" y="828.85" width="8.30" height="79.85" fill="#fde9a6"/>
<path d="M285.71 908.70V828.85H294.01V908.70" fill="none" stroke="#6e5521" stroke-width="2.1" stroke-linejoin="miter"/>
<line x1="289.86" y1="820.20" x2="289.86" y2="833.60" stroke="#7a6330" stroke-width="1.0"/>
<line x1="286.86" y1="820.20" x2="292.86" y2="820.20" stroke="#7a6330" stroke-width="1.0"/>
<line x1="286.86" y1="833.60" x2="292.86" y2="833.60" stroke="#7a6330" stroke-width="1.0"/>
<circle cx="286.36" cy="822.50" r="1.5" fill="#f4c033"/>
<circle cx="293.36" cy="824.30" r="1.5" fill="#f4c033"/>
<circle cx="289.86" cy="835.40" r="1.5" fill="#f4c033"/>
<rect x="301.14" y="824.55" width="8.30" height="84.15" fill="#e1eee1"/>
<path d="M301.14 908.70V824.55H309.44V908.70" fill="none" stroke="#3d6d68" stroke-width="2.1" stroke-linejoin="miter"/>
<line x1="305.29" y1="819.60" x2="305.29" y2="827.20" stroke="#5b7f7b" stroke-width="1.0"/>
<line x1="302.29" y1="819.60" x2="308.29" y2="819.60" stroke="#5b7f7b" stroke-width="1.0"/>
<line x1="302.29" y1="827.20" x2="308.29" y2="827.20" stroke="#5b7f7b" stroke-width="1.0"/>
<circle cx="305.29" cy="818.80" r="1.5" fill="#b9dcc3"/>
<circle cx="301.79" cy="826.00" r="1.5" fill="#b9dcc3"/>
<circle cx="308.79" cy="826.00" r="1.5" fill="#b9dcc3"/>
<rect x="316.57" y="837.05" width="8.30" height="71.65" fill="#efd2f7"/>
<path d="M316.57 908.70V837.05H324.87V908.70" fill="none" stroke="#a400e6" stroke-width="2.1" stroke-linejoin="miter"/>
<line x1="320.72" y1="816.30" x2="320.72" y2="854.60" stroke="#a400e6" stroke-width="1.0"/>
<line x1="317.72" y1="816.30" x2="323.72" y2="816.30" stroke="#a400e6" stroke-width="1.0"/>
<line x1="317.72" y1="854.60" x2="323.72" y2="854.60" stroke="#a400e6" stroke-width="1.0"/>
<circle cx="320.72" cy="821.00" r="1.5" fill="#a400e6"/>
<circle cx="320.72" cy="828.60" r="1.5" fill="#a400e6"/>
<circle cx="320.72" cy="857.60" r="1.5" fill="#a400e6"/>
<text x="289.86" y="927.40" font-size="11.0" font-weight="bold" text-anchor="middle" fill="#000" >B6</text>
<rect x="342.60" y="811.35" width="8.30" height="97.35" fill="#999999"/>
<path d="M342.60 908.70V811.35H350.90V908.70" fill="none" stroke="#000000" stroke-width="2.1" stroke-linejoin="miter"/>
<circle cx="343.15" cy="810.80" r="1.5" fill="#000"/>
<circle cx="346.75" cy="810.80" r="1.5" fill="#000"/>
<circle cx="350.35" cy="810.80" r="1.5" fill="#000"/>
<rect x="358.03" y="824.05" width="8.30" height="84.65" fill="#8aafc9"/>
<path d="M358.03 908.70V824.05H366.33V908.70" fill="none" stroke="#072030" stroke-width="2.1" stroke-linejoin="miter"/>
<line x1="362.18" y1="810.50" x2="362.18" y2="835.00" stroke="#33414d" stroke-width="1.0"/>
<line x1="359.18" y1="810.50" x2="365.18" y2="810.50" stroke="#33414d" stroke-width="1.0"/>
<line x1="359.18" y1="835.00" x2="365.18" y2="835.00" stroke="#33414d" stroke-width="1.0"/>
<circle cx="362.18" cy="808.40" r="1.5" fill="#1f5f99"/>
<circle cx="362.18" cy="826.90" r="1.5" fill="#1f5f99"/>
<circle cx="362.18" cy="832.50" r="1.5" fill="#1f5f99"/>
<rect x="373.46" y="830.25" width="8.30" height="78.45" fill="#fde9a6"/>
<path d="M373.46 908.70V830.25H381.76V908.70" fill="none" stroke="#6e5521" stroke-width="2.1" stroke-linejoin="miter"/>
<line x1="377.61" y1="819.30" x2="377.61" y2="837.40" stroke="#7a6330" stroke-width="1.0"/>
<line x1="374.61" y1="819.30" x2="380.61" y2="819.30" stroke="#7a6330" stroke-width="1.0"/>
<line x1="374.61" y1="837.40" x2="380.61" y2="837.40" stroke="#7a6330" stroke-width="1.0"/>
<circle cx="377.61" cy="822.00" r="1.5" fill="#f4c033"/>
<circle cx="377.61" cy="825.10" r="1.5" fill="#f4c033"/>
<circle cx="377.61" cy="839.10" r="1.5" fill="#f4c033"/>
<rect x="388.89" y="851.65" width="8.30" height="57.05" fill="#e1eee1"/>
<path d="M388.89 908.70V851.65H397.19V908.70" fill="none" stroke="#3d6d68" stroke-width="2.1" stroke-linejoin="miter"/>
<line x1="393.04" y1="836.40" x2="393.04" y2="864.00" stroke="#5b7f7b" stroke-width="1.0"/>
<line x1="390.04" y1="836.40" x2="396.04" y2="836.40" stroke="#5b7f7b" stroke-width="1.0"/>
<line x1="390.04" y1="864.00" x2="396.04" y2="864.00" stroke="#5b7f7b" stroke-width="1.0"/>
<circle cx="393.04" cy="834.80" r="1.5" fill="#b9dcc3"/>
<circle cx="393.04" cy="853.10" r="1.5" fill="#b9dcc3"/>
<circle cx="393.04" cy="859.60" r="1.5" fill="#b9dcc3"/>
<rect x="404.32" y="868.25" width="8.30" height="40.45" fill="#efd2f7"/>
<path d="M404.32 908.70V868.25H412.62V908.70" fill="none" stroke="#a400e6" stroke-width="2.1" stroke-linejoin="miter"/>
<line x1="408.47" y1="863.60" x2="408.47" y2="869.50" stroke="#a400e6" stroke-width="1.0"/>
<line x1="405.47" y1="863.60" x2="411.47" y2="863.60" stroke="#a400e6" stroke-width="1.0"/>
<line x1="405.47" y1="869.50" x2="411.47" y2="869.50" stroke="#a400e6" stroke-width="1.0"/>
<circle cx="408.47" cy="863.00" r="1.5" fill="#a400e6"/>
<circle cx="408.47" cy="869.50" r="1.5" fill="#a400e6"/>
<text x="377.61" y="927.40" font-size="11.0" font-weight="bold" text-anchor="middle" fill="#000" >B9</text>
<rect x="430.35" y="811.35" width="8.30" height="97.35" fill="#999999"/>
<path d="M430.35 908.70V811.35H438.65V908.70" fill="none" stroke="#000000" stroke-width="2.1" stroke-linejoin="miter"/>
<circle cx="430.90" cy="810.80" r="1.5" fill="#000"/>
<circle cx="434.50" cy="810.80" r="1.5" fill="#000"/>
<circle cx="438.10" cy="810.80" r="1.5" fill="#000"/>
<rect x="445.78" y="857.95" width="8.30" height="50.75" fill="#8aafc9"/>
<path d="M445.78 908.70V857.95H454.08V908.70" fill="none" stroke="#072030" stroke-width="2.1" stroke-linejoin="miter"/>
<line x1="449.93" y1="842.40" x2="449.93" y2="870.00" stroke="#33414d" stroke-width="1.0"/>
<line x1="446.93" y1="842.40" x2="452.93" y2="842.40" stroke="#33414d" stroke-width="1.0"/>
<line x1="446.93" y1="870.00" x2="452.93" y2="870.00" stroke="#33414d" stroke-width="1.0"/>
<circle cx="449.93" cy="841.80" r="1.5" fill="#1f5f99"/>
<circle cx="449.93" cy="858.80" r="1.5" fill="#1f5f99"/>
<circle cx="449.93" cy="869.50" r="1.5" fill="#1f5f99"/>
<rect x="461.21" y="861.05" width="8.30" height="47.65" fill="#fde9a6"/>
<path d="M461.21 908.70V861.05H469.51V908.70" fill="none" stroke="#6e5521" stroke-width="2.1" stroke-linejoin="miter"/>
<line x1="465.36" y1="847.40" x2="465.36" y2="872.80" stroke="#7a6330" stroke-width="1.0"/>
<line x1="462.36" y1="847.40" x2="468.36" y2="847.40" stroke="#7a6330" stroke-width="1.0"/>
<line x1="462.36" y1="872.80" x2="468.36" y2="872.80" stroke="#7a6330" stroke-width="1.0"/>
<circle cx="465.36" cy="848.00" r="1.5" fill="#f4c033"/>
<circle cx="465.36" cy="858.50" r="1.5" fill="#f4c033"/>
<circle cx="465.36" cy="872.80" r="1.5" fill="#f4c033"/>
<rect x="476.64" y="864.15" width="8.30" height="44.55" fill="#e1eee1"/>
<path d="M476.64 908.70V864.15H484.94V908.70" fill="none" stroke="#3d6d68" stroke-width="2.1" stroke-linejoin="miter"/>
<line x1="480.79" y1="858.80" x2="480.79" y2="866.40" stroke="#5b7f7b" stroke-width="1.0"/>
<line x1="477.79" y1="858.80" x2="483.79" y2="858.80" stroke="#5b7f7b" stroke-width="1.0"/>
<line x1="477.79" y1="866.40" x2="483.79" y2="866.40" stroke="#5b7f7b" stroke-width="1.0"/>
<circle cx="477.29" cy="859.20" r="1.5" fill="#b9dcc3"/>
<circle cx="484.29" cy="859.20" r="1.5" fill="#b9dcc3"/>
<circle cx="480.79" cy="867.20" r="1.5" fill="#b9dcc3"/>
<rect x="492.07" y="873.25" width="8.30" height="35.45" fill="#efd2f7"/>
<path d="M492.07 908.70V873.25H500.37V908.70" fill="none" stroke="#a400e6" stroke-width="2.1" stroke-linejoin="miter"/>
<line x1="496.22" y1="866.40" x2="496.22" y2="878.40" stroke="#a400e6" stroke-width="1.0"/>
<line x1="493.22" y1="866.40" x2="499.22" y2="866.40" stroke="#a400e6" stroke-width="1.0"/>
<line x1="493.22" y1="878.40" x2="499.22" y2="878.40" stroke="#a400e6" stroke-width="1.0"/>
<circle cx="492.72" cy="868.50" r="1.5" fill="#a400e6"/>
<circle cx="499.72" cy="868.50" r="1.5" fill="#a400e6"/>
<circle cx="496.22" cy="878.40" r="1.5" fill="#a400e6"/>
<text x="465.36" y="927.40" font-size="11.0" font-weight="bold" text-anchor="middle" fill="#000" >5-FU</text>
<line x1="72.15" y1="908.70" x2="507.40" y2="908.70" stroke="#000" stroke-width="1.9"/>
<line x1="114.36" y1="908.70" x2="114.36" y2="914.50" stroke="#000" stroke-width="1.9"/>
<line x1="202.11" y1="908.70" x2="202.11" y2="914.50" stroke="#000" stroke-width="1.9"/>
<line x1="289.86" y1="908.70" x2="289.86" y2="914.50" stroke="#000" stroke-width="1.9"/>
<line x1="377.61" y1="908.70" x2="377.61" y2="914.50" stroke="#000" stroke-width="1.9"/>
<line x1="465.36" y1="908.70" x2="465.36" y2="914.50" stroke="#000" stroke-width="1.9"/>
<line x1="171.10" y1="799.30" x2="201.90" y2="799.30" stroke="#2a2a2a" stroke-width="1.0"/>
<path d="M182.60 785.80V793.00M179.48 787.60L185.72 791.20M179.48 791.20L185.72 787.60" stroke="#000" stroke-width="1.45" fill="none"/>
<path d="M191.20 785.80V793.00M188.08 787.60L194.32 791.20M188.08 791.20L194.32 787.60" stroke="#000" stroke-width="1.45" fill="none"/>
<line x1="173.80" y1="777.20" x2="217.60" y2="777.20" stroke="#2a2a2a" stroke-width="1.0"/>
<path d="M191.60 763.90V771.10M188.48 765.70L194.72 769.30M188.48 769.30L194.72 765.70" stroke="#000" stroke-width="1.45" fill="none"/>
<path d="M200.20 763.90V771.10M197.08 765.70L203.32 769.30M197.08 769.30L203.32 765.70" stroke="#000" stroke-width="1.45" fill="none"/>
<line x1="258.00" y1="800.20" x2="319.70" y2="800.20" stroke="#2a2a2a" stroke-width="1.0"/>
<path d="M284.50 786.60V793.80M281.38 788.40L287.62 792.00M281.38 792.00L287.62 788.40" stroke="#000" stroke-width="1.45" fill="none"/>
<path d="M293.10 786.60V793.80M289.98 788.40L296.22 792.00M289.98 792.00L296.22 788.40" stroke="#000" stroke-width="1.45" fill="none"/>
<line x1="343.70" y1="800.40" x2="391.70" y2="800.40" stroke="#2a2a2a" stroke-width="1.0"/>
<path d="M363.00 787.30V794.50M359.88 789.10L366.12 792.70M359.88 792.70L366.12 789.10" stroke="#000" stroke-width="1.45" fill="none"/>
<path d="M371.60 787.30V794.50M368.48 789.10L374.72 792.70M368.48 792.70L374.72 789.10" stroke="#000" stroke-width="1.45" fill="none"/>
<line x1="346.30" y1="777.00" x2="410.10" y2="777.00" stroke="#2a2a2a" stroke-width="1.0"/>
<path d="M373.60 764.10V771.30M370.48 765.90L376.72 769.50M370.48 769.50L376.72 765.90" stroke="#000" stroke-width="1.45" fill="none"/>
<path d="M382.20 764.10V771.30M379.08 765.90L385.32 769.50M379.08 769.50L385.32 765.90" stroke="#000" stroke-width="1.45" fill="none"/>
<line x1="435.10" y1="793.50" x2="447.70" y2="793.50" stroke="#2a2a2a" stroke-width="1.0"/>
<path d="M437.10 780.10V787.30M433.98 781.90L440.22 785.50M433.98 785.50L440.22 781.90" stroke="#000" stroke-width="1.45" fill="none"/>
<path d="M445.70 780.10V787.30M442.58 781.90L448.82 785.50M442.58 785.50L448.82 781.90" stroke="#000" stroke-width="1.45" fill="none"/>
<line x1="434.30" y1="771.50" x2="462.20" y2="771.50" stroke="#2a2a2a" stroke-width="1.0"/>
<path d="M444.00 758.20V765.40M440.88 760.00L447.12 763.60M440.88 763.60L447.12 760.00" stroke="#000" stroke-width="1.45" fill="none"/>
<path d="M452.60 758.20V765.40M449.48 760.00L455.72 763.60M449.48 763.60L455.72 760.00" stroke="#000" stroke-width="1.45" fill="none"/>
<line x1="435.90" y1="749.50" x2="477.10" y2="749.50" stroke="#2a2a2a" stroke-width="1.0"/>
<path d="M452.40 736.10V743.30M449.28 737.90L455.52 741.50M449.28 741.50L455.52 737.90" stroke="#000" stroke-width="1.45" fill="none"/>
<path d="M461.00 736.10V743.30M457.88 737.90L464.12 741.50M457.88 741.50L464.12 737.90" stroke="#000" stroke-width="1.45" fill="none"/>
<line x1="436.40" y1="726.50" x2="489.50" y2="726.50" stroke="#2a2a2a" stroke-width="1.0"/>
<path d="M458.90 713.40V720.60M455.78 715.20L462.02 718.80M455.78 718.80L462.02 715.20" stroke="#000" stroke-width="1.45" fill="none"/>
<path d="M467.50 713.40V720.60M464.38 715.20L470.62 718.80M464.38 718.80L470.62 715.20" stroke="#000" stroke-width="1.45" fill="none"/>
<circle cx="33.30" cy="946.50" r="1.6" fill="#222"/>
<text x="49.60" y="951.00" font-size="12.2" font-weight="normal" text-anchor="start" fill="#000" >0%, 0 µg/ml</text>
<circle cx="123.20" cy="946.50" r="1.6" fill="#1f5f99"/>
<text x="139.50" y="951.00" font-size="12.2" font-weight="normal" text-anchor="start" fill="#000" >5%, 5 µg/ml</text>
<circle cx="215.40" cy="946.50" r="1.6" fill="#f4c033"/>
<text x="232.50" y="951.00" font-size="12.2" font-weight="normal" text-anchor="start" fill="#000" >10%, 10 µg/ml</text>
<circle cx="321.90" cy="946.50" r="1.6" fill="#b9dcc3"/>
<text x="338.00" y="951.00" font-size="12.2" font-weight="normal" text-anchor="start" fill="#000" >20%, 50 µg/ml</text>
<circle cx="427.60" cy="946.50" r="1.6" fill="#a400e6"/>
<text x="444.40" y="951.00" font-size="12.2" font-weight="normal" text-anchor="start" fill="#000" >-, 100 µg/ml</text>
<text x="632.80" y="366.00" font-size="14.1" font-weight="bold" text-anchor="middle" fill="#000" >HCT116</text>
<line x1="582.50" y1="393.85" x2="582.50" y2="546.80" stroke="#000" stroke-width="1.9"/>
<line x1="576.60" y1="394.80" x2="582.50" y2="394.80" stroke="#000" stroke-width="1.9"/>
<text x="574.20" y="399.67" font-size="11.3" font-weight="bold" text-anchor="end" fill="#000" >150</text>
<line x1="576.60" y1="445.20" x2="582.50" y2="445.20" stroke="#000" stroke-width="1.9"/>
<text x="574.20" y="450.07" font-size="11.3" font-weight="bold" text-anchor="end" fill="#000" >100</text>
<line x1="576.60" y1="495.40" x2="582.50" y2="495.40" stroke="#000" stroke-width="1.9"/>
<text x="574.20" y="500.27" font-size="11.3" font-weight="bold" text-anchor="end" fill="#000" >50</text>
<line x1="576.60" y1="545.80" x2="582.50" y2="545.80" stroke="#000" stroke-width="1.9"/>
<text x="574.20" y="550.67" font-size="11.3" font-weight="bold" text-anchor="end" fill="#000" >0</text>
<text x="0" y="0" font-size="16.25" font-weight="bold" text-anchor="middle" transform="translate(544.60 470.70) rotate(-90)">Cell viability %</text>
<rect x="594.15" y="451.45" width="17.20" height="94.35" fill="#999999"/>
<path d="M594.15 545.80V451.45H611.35V545.80" fill="none" stroke="#000000" stroke-width="2.5" stroke-linejoin="miter"/>
<rect x="624.00" y="521.90" width="17.50" height="23.90" fill="#fde9a6"/>
<path d="M624.00 545.80V521.90H641.50V545.80" fill="none" stroke="#6e5521" stroke-width="2.4" stroke-linejoin="miter"/>
<rect x="654.05" y="507.25" width="17.80" height="38.55" fill="#e1eee1"/>
<path d="M654.05 545.80V507.25H671.85V545.80" fill="none" stroke="#3d6d68" stroke-width="2.3" stroke-linejoin="miter"/>
<line x1="602.70" y1="447.90" x2="602.70" y2="452.90" stroke="#111111" stroke-width="1.1"/>
<line x1="598.20" y1="447.90" x2="607.20" y2="447.90" stroke="#111111" stroke-width="1.1"/>
<line x1="598.20" y1="452.90" x2="607.20" y2="452.90" stroke="#111111" stroke-width="1.1"/>
<circle cx="600.20" cy="449.00" r="1.4" fill="#222222"/>
<circle cx="605.20" cy="449.50" r="1.4" fill="#222222"/>
<circle cx="602.70" cy="452.90" r="1.4" fill="#222222"/>
<line x1="632.70" y1="511.40" x2="632.70" y2="529.20" stroke="#7a6330" stroke-width="1.1"/>
<line x1="628.20" y1="511.40" x2="637.20" y2="511.40" stroke="#7a6330" stroke-width="1.1"/>
<line x1="628.20" y1="529.20" x2="637.20" y2="529.20" stroke="#7a6330" stroke-width="1.1"/>
<circle cx="632.70" cy="512.90" r="1.6" fill="#f4c033"/>
<circle cx="632.70" cy="517.50" r="1.6" fill="#f4c033"/>
<circle cx="632.70" cy="530.50" r="1.6" fill="#f4c033"/>
<line x1="662.90" y1="504.00" x2="662.90" y2="507.50" stroke="#5b7f7b" stroke-width="1.1"/>
<line x1="658.40" y1="504.00" x2="667.40" y2="504.00" stroke="#5b7f7b" stroke-width="1.1"/>
<line x1="658.40" y1="507.50" x2="667.40" y2="507.50" stroke="#5b7f7b" stroke-width="1.1"/>
<circle cx="660.40" cy="504.30" r="1.5" fill="#b9dcc3"/>
<circle cx="665.40" cy="504.50" r="1.5" fill="#b9dcc3"/>
<circle cx="662.90" cy="506.00" r="1.5" fill="#b9dcc3"/>
<line x1="581.60" y1="545.80" x2="684.00" y2="545.80" stroke="#000" stroke-width="1.9"/>
<line x1="602.50" y1="545.80" x2="602.50" y2="551.60" stroke="#000" stroke-width="1.9"/>
<line x1="632.60" y1="545.80" x2="632.60" y2="551.60" stroke="#000" stroke-width="1.9"/>
<line x1="662.80" y1="545.80" x2="662.80" y2="551.60" stroke="#000" stroke-width="1.9"/>
<text x="0" y="0" font-size="11.3" font-weight="bold" text-anchor="end" transform="translate(606.10 562.50) rotate(-45)">Medium</text>
<text x="0" y="0" font-size="11.3" font-weight="bold" text-anchor="end" transform="translate(636.20 562.50) rotate(-45)">STH</text>
<text x="0" y="0" font-size="11.3" font-weight="bold" text-anchor="end" transform="translate(666.40 562.50) rotate(-45)">STH, no Folate</text>
<line x1="602.50" y1="398.50" x2="662.80" y2="398.50" stroke="#333" stroke-width="1.1"/>
<path d="M619.85 385.00V392.20M616.73 386.80L622.97 390.40M616.73 390.40L622.97 386.80" stroke="#000" stroke-width="1.6" fill="none"/>
<path d="M628.55 385.00V392.20M625.43 386.80L631.67 390.40M625.43 390.40L631.67 386.80" stroke="#000" stroke-width="1.6" fill="none"/>
<path d="M637.25 385.00V392.20M634.13 386.80L640.37 390.40M634.13 390.40L640.37 386.80" stroke="#000" stroke-width="1.6" fill="none"/>
<path d="M645.95 385.00V392.20M642.83 386.80L649.07 390.40M642.83 390.40L649.07 386.80" stroke="#000" stroke-width="1.6" fill="none"/>
<line x1="602.50" y1="430.10" x2="632.90" y2="430.10" stroke="#333" stroke-width="1.2"/>
<path d="M604.85 416.60V423.80M601.73 418.40L607.97 422.00M601.73 422.00L607.97 418.40" stroke="#000" stroke-width="1.6" fill="none"/>
<path d="M613.55 416.60V423.80M610.43 418.40L616.67 422.00M610.43 422.00L616.67 418.40" stroke="#000" stroke-width="1.6" fill="none"/>
<path d="M622.25 416.60V423.80M619.13 418.40L625.37 422.00M619.13 422.00L625.37 418.40" stroke="#000" stroke-width="1.6" fill="none"/>
<path d="M630.95 416.60V423.80M627.83 418.40L634.07 422.00M627.83 422.00L634.07 418.40" stroke="#000" stroke-width="1.6" fill="none"/>
<line x1="632.90" y1="488.50" x2="662.80" y2="488.50" stroke="#444" stroke-width="1.2"/>
<path d="M647.65 475.40V482.60M644.53 477.20L650.77 480.80M644.53 480.80L650.77 477.20" stroke="#000" stroke-width="1.6" fill="none"/>
<text x="628.00" y="687.40" font-size="13.2" font-weight="bold" text-anchor="middle" fill="#000" >HT-29</text>
<line x1="581.90" y1="771.70" x2="581.90" y2="909.30" stroke="#000" stroke-width="1.8"/>
<line x1="577.10" y1="772.60" x2="581.90" y2="772.60" stroke="#000" stroke-width="1.8"/>
<text x="575.40" y="776.40" font-size="10.0" font-weight="bold" text-anchor="end" fill="#000" >100</text>
<line x1="577.10" y1="799.74" x2="581.90" y2="799.74" stroke="#000" stroke-width="1.8"/>
<text x="575.40" y="803.86" font-size="10.9" font-weight="bold" text-anchor="end" fill="#000" >80</text>
<line x1="577.10" y1="826.88" x2="581.90" y2="826.88" stroke="#000" stroke-width="1.8"/>
<text x="575.40" y="831.00" font-size="10.9" font-weight="bold" text-anchor="end" fill="#000" >60</text>
<line x1="577.10" y1="854.02" x2="581.90" y2="854.02" stroke="#000" stroke-width="1.8"/>
<text x="575.40" y="858.14" font-size="10.9" font-weight="bold" text-anchor="end" fill="#000" >40</text>
<line x1="577.10" y1="881.16" x2="581.90" y2="881.16" stroke="#000" stroke-width="1.8"/>
<text x="575.40" y="885.28" font-size="10.9" font-weight="bold" text-anchor="end" fill="#000" >20</text>
<line x1="577.10" y1="908.30" x2="581.90" y2="908.30" stroke="#000" stroke-width="1.8"/>
<text x="575.40" y="912.42" font-size="10.9" font-weight="bold" text-anchor="end" fill="#000" >0</text>
<text x="0" y="0" font-size="14.9" font-weight="bold" text-anchor="middle" transform="translate(549.10 840.00) rotate(-90)">Cell viability %</text>
<rect x="593.10" y="796.60" width="14.80" height="111.70" fill="#999999"/>
<path d="M593.10 908.30V796.60H607.90V908.30" fill="none" stroke="#000000" stroke-width="2.2" stroke-linejoin="miter"/>
<rect x="620.00" y="874.00" width="15.70" height="34.30" fill="#fde9a6"/>
<path d="M620.00 908.30V874.00H635.70V908.30" fill="none" stroke="#6e5521" stroke-width="2.2" stroke-linejoin="miter"/>
<rect x="647.40" y="839.80" width="15.50" height="68.50" fill="#e1eee1"/>
<path d="M647.40 908.30V839.80H662.90V908.30" fill="none" stroke="#3d6d68" stroke-width="2.2" stroke-linejoin="miter"/>
<line x1="600.50" y1="790.30" x2="600.50" y2="800.40" stroke="#111111" stroke-width="1.1"/>
<line x1="596.50" y1="790.30" x2="604.50" y2="790.30" stroke="#111111" stroke-width="1.1"/>
<line x1="596.50" y1="800.40" x2="604.50" y2="800.40" stroke="#111111" stroke-width="1.1"/>
<circle cx="598.00" cy="791.80" r="1.4" fill="#222222"/>
<circle cx="603.00" cy="792.60" r="1.4" fill="#222222"/>
<circle cx="600.50" cy="800.90" r="1.4" fill="#222222"/>
<line x1="627.90" y1="867.00" x2="627.90" y2="878.80" stroke="#7a6330" stroke-width="1.1"/>
<line x1="623.90" y1="867.00" x2="631.90" y2="867.00" stroke="#7a6330" stroke-width="1.1"/>
<line x1="623.90" y1="878.80" x2="631.90" y2="878.80" stroke="#7a6330" stroke-width="1.1"/>
<circle cx="627.90" cy="869.30" r="1.5" fill="#f4c033"/>
<circle cx="627.90" cy="873.50" r="1.5" fill="#f4c033"/>
<circle cx="627.90" cy="878.80" r="1.5" fill="#f4c033"/>
<line x1="655.20" y1="830.90" x2="655.20" y2="846.40" stroke="#5b7f7b" stroke-width="1.1"/>
<line x1="651.20" y1="830.90" x2="659.20" y2="830.90" stroke="#5b7f7b" stroke-width="1.1"/>
<line x1="651.20" y1="846.40" x2="659.20" y2="846.40" stroke="#5b7f7b" stroke-width="1.1"/>
<line x1="581.00" y1="908.30" x2="673.40" y2="908.30" stroke="#000" stroke-width="1.8"/>
<line x1="600.40" y1="908.30" x2="600.40" y2="914.10" stroke="#000" stroke-width="1.8"/>
<line x1="627.90" y1="908.30" x2="627.90" y2="914.10" stroke="#000" stroke-width="1.8"/>
<line x1="655.10" y1="908.30" x2="655.10" y2="914.10" stroke="#000" stroke-width="1.8"/>
<text x="0" y="0" font-size="10.3" font-weight="bold" text-anchor="end" transform="translate(603.40 923.00) rotate(-45)">Medium</text>
<text x="0" y="0" font-size="10.3" font-weight="bold" text-anchor="end" transform="translate(630.90 923.00) rotate(-45)">STH</text>
<text x="0" y="0" font-size="10.3" font-weight="bold" text-anchor="end" transform="translate(658.10 923.00) rotate(-45)">STH, no Folate</text>
<line x1="600.70" y1="716.40" x2="655.00" y2="716.40" stroke="#333" stroke-width="1.1"/>
<path d="M620.30 704.60V711.20M617.44 706.25L623.16 709.55M617.44 709.55L623.16 706.25" stroke="#000" stroke-width="1.5" fill="none"/>
<path d="M628.20 704.60V711.20M625.34 706.25L631.06 709.55M625.34 709.55L631.06 706.25" stroke="#000" stroke-width="1.5" fill="none"/>
<path d="M636.10 704.60V711.20M633.24 706.25L638.96 709.55M633.24 709.55L638.96 706.25" stroke="#000" stroke-width="1.5" fill="none"/>
<line x1="627.90" y1="745.50" x2="655.00" y2="745.50" stroke="#333" stroke-width="1.1"/>
<path d="M637.60 733.10V739.70M634.74 734.75L640.46 738.05M634.74 738.05L640.46 734.75" stroke="#000" stroke-width="1.5" fill="none"/>
<path d="M645.50 733.10V739.70M642.64 734.75L648.36 738.05M642.64 738.05L648.36 734.75" stroke="#000" stroke-width="1.5" fill="none"/>
<line x1="600.70" y1="773.80" x2="627.90" y2="773.80" stroke="#555" stroke-width="1.1"/>
<path d="M602.20 762.00V768.60M599.34 763.65L605.06 766.95M599.34 766.95L605.06 763.65" stroke="#000" stroke-width="1.5" fill="none"/>
<path d="M610.10 762.00V768.60M607.24 763.65L612.96 766.95M607.24 766.95L612.96 763.65" stroke="#000" stroke-width="1.5" fill="none"/>
<path d="M618.00 762.00V768.60M615.14 763.65L620.86 766.95M615.14 766.95L620.86 763.65" stroke="#000" stroke-width="1.5" fill="none"/>
<path d="M625.90 762.00V768.60M623.04 763.65L628.76 766.95M623.04 766.95L628.76 763.65" stroke="#000" stroke-width="1.5" fill="none"/>
</svg>
</body></html>
